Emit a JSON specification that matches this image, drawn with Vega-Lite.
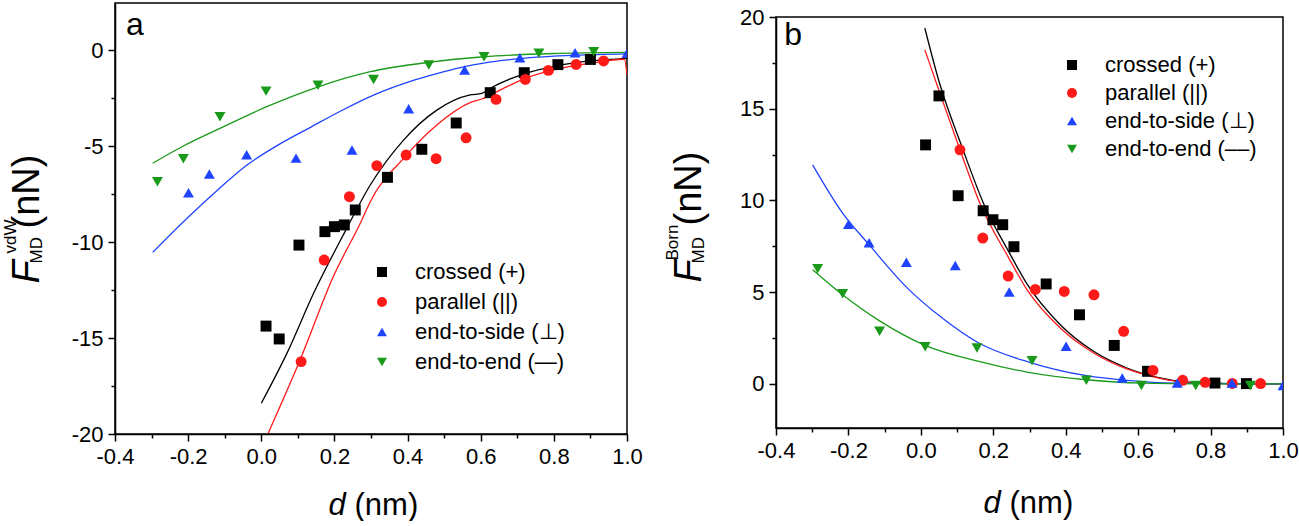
{
  "$schema": "https://vega.github.io/schema/vega-lite/v6.json",
  "padding": {"left": 0, "top": 2, "right": 0, "bottom": 0},
  "background": "white",
  "config": {
    "font": "Liberation Sans",
    "view": {"stroke": "#000", "strokeWidth": 1.5},
    "axis": {
      "grid": false, "domainColor": "#000", "domainWidth": 1.5, "tickColor": "#000", "tickWidth": 1.5,
      "labelColor": "#000", "titleColor": "#000", "labelFont": "Liberation Sans", "titleFont": "Liberation Sans",
      "labelFontSize": 22, "labelFlush": false, "labelOverlap": false, "titleFontWeight": "normal"
    },
    "legend": {"labelFont": "Liberation Sans", "labelFontSize": 22, "labelColor": "#000", "padding": 0, "symbolStrokeWidth": 0, "symbolSize": 100, "labelOffset": 22}
  },
  "resolve": {"scale": {"color": "independent", "shape": "independent"}},
  "spacing": 18,
  "datasets": {
    "a_curves": [
      {"s": "crossed (+)", "d": 0.0, "F": -18.4}, {"s": "crossed (+)", "d": 0.07, "F": -15.8}, {"s": "crossed (+)", "d": 0.143, "F": -12.67},
      {"s": "crossed (+)", "d": 0.229, "F": -9.46}, {"s": "crossed (+)", "d": 0.298, "F": -7.03}, {"s": "crossed (+)", "d": 0.389, "F": -4.69},
      {"s": "crossed (+)", "d": 0.48, "F": -3.13}, {"s": "crossed (+)", "d": 0.571, "F": -2.34}, {"s": "crossed (+)", "d": 0.603, "F": -2.26},
      {"s": "crossed (+)", "d": 0.626, "F": -1.99}, {"s": "crossed (+)", "d": 0.717, "F": -1.25}, {"s": "crossed (+)", "d": 0.808, "F": -0.83},
      {"s": "crossed (+)", "d": 0.9, "F": -0.57}, {"s": "crossed (+)", "d": 1.0, "F": -0.43},
      {"s": "parallel (||)", "d": 0.019, "F": -19.96}, {"s": "parallel (||)", "d": 0.106, "F": -16.15}, {"s": "parallel (||)", "d": 0.197, "F": -11.8},
      {"s": "parallel (||)", "d": 0.275, "F": -8.85}, {"s": "parallel (||)", "d": 0.298, "F": -7.9}, {"s": "parallel (||)", "d": 0.389, "F": -5.64},
      {"s": "parallel (||)", "d": 0.48, "F": -3.9}, {"s": "parallel (||)", "d": 0.571, "F": -2.74}, {"s": "parallel (||)", "d": 0.603, "F": -2.55},
      {"s": "parallel (||)", "d": 0.662, "F": -2.0}, {"s": "parallel (||)", "d": 0.722, "F": -1.48}, {"s": "parallel (||)", "d": 0.808, "F": -1.0},
      {"s": "parallel (||)", "d": 0.9, "F": -0.69}, {"s": "parallel (||)", "d": 0.993, "F": -0.48}, {"s": "parallel (||)", "d": 1.0, "F": -1.3},
      {"s": "end-to-side (⊥)", "d": -0.297, "F": -10.54}, {"s": "end-to-side (⊥)", "d": -0.208, "F": -8.85}, {"s": "end-to-side (⊥)", "d": -0.12, "F": -7.3},
      {"s": "end-to-side (⊥)", "d": -0.04, "F": -6.0}, {"s": "end-to-side (⊥)", "d": 0.05, "F": -4.9}, {"s": "end-to-side (⊥)", "d": 0.137, "F": -4.0},
      {"s": "end-to-side (⊥)", "d": 0.22, "F": -3.15}, {"s": "end-to-side (⊥)", "d": 0.307, "F": -2.35}, {"s": "end-to-side (⊥)", "d": 0.42, "F": -1.56},
      {"s": "end-to-side (⊥)", "d": 0.5, "F": -1.12}, {"s": "end-to-side (⊥)", "d": 0.556, "F": -0.86}, {"s": "end-to-side (⊥)", "d": 0.608, "F": -0.68},
      {"s": "end-to-side (⊥)", "d": 0.707, "F": -0.45}, {"s": "end-to-side (⊥)", "d": 0.858, "F": -0.27}, {"s": "end-to-side (⊥)", "d": 1.0, "F": -0.2},
      {"s": "end-to-end (—)", "d": -0.297, "F": -5.9}, {"s": "end-to-end (—)", "d": -0.213, "F": -5.0}, {"s": "end-to-end (—)", "d": -0.113, "F": -4.08},
      {"s": "end-to-end (—)", "d": 0.015, "F": -2.95}, {"s": "end-to-end (—)", "d": 0.152, "F": -1.94}, {"s": "end-to-end (—)", "d": 0.298, "F": -1.13},
      {"s": "end-to-end (—)", "d": 0.458, "F": -0.64}, {"s": "end-to-end (—)", "d": 0.609, "F": -0.35}, {"s": "end-to-end (—)", "d": 0.8, "F": -0.18},
      {"s": "end-to-end (—)", "d": 1.0, "F": -0.12}
    ],
    "a_points": [
      {"s": "crossed (+)", "d": 0.013, "F": -14.38}, {"s": "crossed (+)", "d": 0.049, "F": -15.05}, {"s": "crossed (+)", "d": 0.103, "F": -10.16},
      {"s": "crossed (+)", "d": 0.174, "F": -9.46}, {"s": "crossed (+)", "d": 0.2, "F": -9.2}, {"s": "crossed (+)", "d": 0.227, "F": -9.11},
      {"s": "crossed (+)", "d": 0.257, "F": -8.33}, {"s": "crossed (+)", "d": 0.345, "F": -6.63}, {"s": "crossed (+)", "d": 0.439, "F": -5.17},
      {"s": "crossed (+)", "d": 0.533, "F": -3.8}, {"s": "crossed (+)", "d": 0.626, "F": -2.22}, {"s": "crossed (+)", "d": 0.719, "F": -1.18},
      {"s": "crossed (+)", "d": 0.811, "F": -0.76}, {"s": "crossed (+)", "d": 0.9, "F": -0.49},
      {"s": "parallel (||)", "d": 0.109, "F": -16.23}, {"s": "parallel (||)", "d": 0.172, "F": -10.94}, {"s": "parallel (||)", "d": 0.241, "F": -7.64},
      {"s": "parallel (||)", "d": 0.316, "F": -6.02}, {"s": "parallel (||)", "d": 0.396, "F": -5.47}, {"s": "parallel (||)", "d": 0.478, "F": -5.66},
      {"s": "parallel (||)", "d": 0.56, "F": -4.57}, {"s": "parallel (||)", "d": 0.642, "F": -2.57}, {"s": "parallel (||)", "d": 0.722, "F": -1.53},
      {"s": "parallel (||)", "d": 0.785, "F": -1.06}, {"s": "parallel (||)", "d": 0.861, "F": -0.75}, {"s": "parallel (||)", "d": 0.936, "F": -0.57},
      {"s": "end-to-side (⊥)", "d": -0.199, "F": -7.43}, {"s": "end-to-side (⊥)", "d": -0.142, "F": -6.46}, {"s": "end-to-side (⊥)", "d": -0.04, "F": -5.45},
      {"s": "end-to-side (⊥)", "d": 0.095, "F": -5.63}, {"s": "end-to-side (⊥)", "d": 0.248, "F": -5.21}, {"s": "end-to-side (⊥)", "d": 0.403, "F": -3.06},
      {"s": "end-to-side (⊥)", "d": 0.556, "F": -1.04}, {"s": "end-to-side (⊥)", "d": 0.707, "F": -0.4}, {"s": "end-to-side (⊥)", "d": 0.858, "F": -0.14},
      {"s": "end-to-side (⊥)", "d": 1.0, "F": -0.17},
      {"s": "end-to-end (—)", "d": -0.284, "F": -6.86}, {"s": "end-to-end (—)", "d": -0.213, "F": -5.66}, {"s": "end-to-end (—)", "d": -0.113, "F": -3.47},
      {"s": "end-to-end (—)", "d": 0.013, "F": -2.14}, {"s": "end-to-end (—)", "d": 0.155, "F": -1.84}, {"s": "end-to-end (—)", "d": 0.307, "F": -1.53},
      {"s": "end-to-end (—)", "d": 0.458, "F": -0.78}, {"s": "end-to-end (—)", "d": 0.609, "F": -0.35}, {"s": "end-to-end (—)", "d": 0.759, "F": -0.17},
      {"s": "end-to-end (—)", "d": 0.909, "F": -0.09}
    ],
    "b_curves": [
      {"s": "crossed (+)", "d": 0.011, "F": 19.39}, {"s": "crossed (+)", "d": 0.05, "F": 16.5}, {"s": "crossed (+)", "d": 0.114, "F": 12.9},
      {"s": "crossed (+)", "d": 0.174, "F": 9.8}, {"s": "crossed (+)", "d": 0.243, "F": 7.2}, {"s": "crossed (+)", "d": 0.293, "F": 5.45},
      {"s": "crossed (+)", "d": 0.385, "F": 3.23}, {"s": "crossed (+)", "d": 0.477, "F": 1.78}, {"s": "crossed (+)", "d": 0.569, "F": 0.87},
      {"s": "crossed (+)", "d": 0.66, "F": 0.33}, {"s": "crossed (+)", "d": 0.725, "F": 0.12}, {"s": "crossed (+)", "d": 0.844, "F": 0.02},
      {"s": "crossed (+)", "d": 1.0, "F": 0.0},
      {"s": "parallel (||)", "d": 0.011, "F": 18.21}, {"s": "parallel (||)", "d": 0.059, "F": 15.49}, {"s": "parallel (||)", "d": 0.108, "F": 12.76},
      {"s": "parallel (||)", "d": 0.165, "F": 9.75}, {"s": "parallel (||)", "d": 0.243, "F": 6.86}, {"s": "parallel (||)", "d": 0.293, "F": 5.14},
      {"s": "parallel (||)", "d": 0.385, "F": 3.05}, {"s": "parallel (||)", "d": 0.477, "F": 1.69}, {"s": "parallel (||)", "d": 0.569, "F": 0.82},
      {"s": "parallel (||)", "d": 0.66, "F": 0.31}, {"s": "parallel (||)", "d": 0.725, "F": 0.1}, {"s": "parallel (||)", "d": 0.844, "F": 0.02},
      {"s": "parallel (||)", "d": 1.0, "F": 0.0},
      {"s": "end-to-side (⊥)", "d": -0.299, "F": 11.94}, {"s": "end-to-side (⊥)", "d": -0.216, "F": 9.31}, {"s": "end-to-side (⊥)", "d": -0.143, "F": 7.59},
      {"s": "end-to-side (⊥)", "d": -0.042, "F": 5.32}, {"s": "end-to-side (⊥)", "d": 0.059, "F": 3.59}, {"s": "end-to-side (⊥)", "d": 0.16, "F": 2.23},
      {"s": "end-to-side (⊥)", "d": 0.3, "F": 1.18}, {"s": "end-to-side (⊥)", "d": 0.458, "F": 0.45}, {"s": "end-to-side (⊥)", "d": 0.569, "F": 0.2},
      {"s": "end-to-side (⊥)", "d": 0.7, "F": 0.05}, {"s": "end-to-side (⊥)", "d": 1.0, "F": 0.0},
      {"s": "end-to-end (––)", "d": -0.299, "F": 6.23}, {"s": "end-to-end (––)", "d": -0.216, "F": 4.86}, {"s": "end-to-end (––)", "d": -0.115, "F": 3.45},
      {"s": "end-to-end (––)", "d": 0.013, "F": 2.09}, {"s": "end-to-end (––)", "d": 0.16, "F": 1.23}, {"s": "end-to-end (––)", "d": 0.293, "F": 0.65},
      {"s": "end-to-end (––)", "d": 0.458, "F": 0.23}, {"s": "end-to-end (––)", "d": 0.609, "F": 0.05}, {"s": "end-to-end (––)", "d": 0.8, "F": 0.01},
      {"s": "end-to-end (––)", "d": 1.0, "F": 0.0}
    ],
    "b_points": [
      {"s": "crossed (+)", "d": 0.013, "F": 13.03}, {"s": "crossed (+)", "d": 0.05, "F": 15.7}, {"s": "crossed (+)", "d": 0.103, "F": 10.26},
      {"s": "crossed (+)", "d": 0.172, "F": 9.44}, {"s": "crossed (+)", "d": 0.199, "F": 8.95}, {"s": "crossed (+)", "d": 0.226, "F": 8.68},
      {"s": "crossed (+)", "d": 0.257, "F": 7.48}, {"s": "crossed (+)", "d": 0.346, "F": 5.45}, {"s": "crossed (+)", "d": 0.438, "F": 3.77},
      {"s": "crossed (+)", "d": 0.534, "F": 2.1}, {"s": "crossed (+)", "d": 0.626, "F": 0.69}, {"s": "crossed (+)", "d": 0.812, "F": 0.05},
      {"s": "crossed (+)", "d": 0.899, "F": 0.02},
      {"s": "parallel (||)", "d": 0.108, "F": 12.76}, {"s": "parallel (||)", "d": 0.171, "F": 7.95}, {"s": "parallel (||)", "d": 0.241, "F": 5.88},
      {"s": "parallel (||)", "d": 0.316, "F": 5.15}, {"s": "parallel (||)", "d": 0.396, "F": 5.04}, {"s": "parallel (||)", "d": 0.478, "F": 4.86},
      {"s": "parallel (||)", "d": 0.56, "F": 2.87}, {"s": "parallel (||)", "d": 0.641, "F": 0.74}, {"s": "parallel (||)", "d": 0.723, "F": 0.2},
      {"s": "parallel (||)", "d": 0.785, "F": 0.09}, {"s": "parallel (||)", "d": 0.86, "F": 0.03}, {"s": "parallel (||)", "d": 0.938, "F": 0.02},
      {"s": "end-to-side (⊥)", "d": -0.2, "F": 8.71}, {"s": "end-to-side (⊥)", "d": -0.143, "F": 7.7}, {"s": "end-to-side (⊥)", "d": -0.04, "F": 6.64},
      {"s": "end-to-side (⊥)", "d": 0.095, "F": 6.46}, {"s": "end-to-side (⊥)", "d": 0.244, "F": 5.01}, {"s": "end-to-side (⊥)", "d": 0.401, "F": 2.05},
      {"s": "end-to-side (⊥)", "d": 0.556, "F": 0.33}, {"s": "end-to-side (⊥)", "d": 0.708, "F": 0.05}, {"s": "end-to-side (⊥)", "d": 0.859, "F": 0.05},
      {"s": "end-to-side (⊥)", "d": 1.0, "F": -0.08},
      {"s": "end-to-end (––)", "d": -0.285, "F": 6.28}, {"s": "end-to-end (––)", "d": -0.216, "F": 4.92}, {"s": "end-to-end (––)", "d": -0.114, "F": 2.87},
      {"s": "end-to-end (––)", "d": 0.012, "F": 2.03}, {"s": "end-to-end (––)", "d": 0.155, "F": 1.96}, {"s": "end-to-end (––)", "d": 0.307, "F": 1.27},
      {"s": "end-to-end (––)", "d": 0.457, "F": 0.2}, {"s": "end-to-end (––)", "d": 0.609, "F": -0.08}, {"s": "end-to-end (––)", "d": 0.759, "F": -0.08},
      {"s": "end-to-end (––)", "d": 0.91, "F": -0.08}
    ],
    "a_label": [{"label": "a", "d": -0.37, "F": 0.78}],
    "b_label": [{"label": "b", "d": -0.377, "F": 18.48}],
    "empty": []
  },
  "hconcat": [
    {
      "width": 512,
      "height": 431,
      "resolve": {"axis": {"x": "independent", "y": "independent"}},
      "layer": [
        {
          "data": {"name": "a_curves"},
          "transform": [{"filter": "datum.s == 'crossed (+)'"}],
          "mark": {"type": "line", "strokeWidth": 1.3, "interpolate": "monotone", "clip": true, "color": "#000000"},
          "encoding": {
            "x": {"field": "d", "type": "quantitative", "scale": {"domain": [-0.4, 1.0], "nice": false, "zero": false},
              "axis": {"orient": "bottom", "values": [-0.4, -0.2, 0, 0.2, 0.4, 0.6, 0.8, 1], "labelExpr": "(datum.value < 0 ? '-' : '') + format(abs(datum.value), '.1f')", "tickSize": 7, "labelPadding": 5,
                "title": "d", "titleFontStyle": "italic", "titleFontSize": 31, "titleAngle": 0, "titleAlign": "left", "titleBaseline": "alphabetic", "titleX": 213, "titleY": 80}},
            "y": {"field": "F", "type": "quantitative", "scale": {"domain": [-20, 2.45], "nice": false, "zero": false},
              "axis": {"orient": "left", "values": [-20, -15, -10, -5, 0], "labelExpr": "(datum.value < 0 ? '-' : '') + format(abs(datum.value), 'd')", "tickSize": 7, "labelPadding": 5,
                "title": "F", "titleFontStyle": "italic", "titleFontSize": 38, "titleAngle": -90, "titleAlign": "left", "titleBaseline": "alphabetic", "titleX": -77, "titleY": 280}}
          }
        },
        {
          "data": {"name": "a_curves"},
          "transform": [{"filter": "datum.s == 'parallel (||)'"}],
          "mark": {"type": "line", "strokeWidth": 1.3, "interpolate": "monotone", "clip": true, "color": "#ff1a1a"},
          "encoding": {
            "x": {"field": "d", "type": "quantitative",
              "axis": {"orient": "bottom", "values": [-0.3, -0.1, 0.1, 0.3, 0.5, 0.7, 0.9], "tickSize": 4, "labels": false, "domain": false,
                "title": "(nm)", "titleFontSize": 31, "titleAngle": 0, "titleAlign": "left", "titleBaseline": "alphabetic", "titleX": 239, "titleY": 80}},
            "y": {"field": "F", "type": "quantitative",
              "axis": {"orient": "left", "values": [-17.5, -12.5, -7.5, -2.5], "tickSize": 4, "labels": false, "domain": false,
                "title": "(nN)", "titleFontSize": 38, "titleAngle": -90, "titleAlign": "left", "titleBaseline": "alphabetic", "titleX": -77, "titleY": 225}}
          }
        },
        {
          "data": {"name": "a_curves"},
          "transform": [{"filter": "datum.s == 'end-to-side (⊥)'"}],
          "mark": {"type": "line", "strokeWidth": 1.3, "interpolate": "monotone", "clip": true, "color": "#1f44ff"},
          "encoding": {
            "x": {"field": "d", "type": "quantitative", "axis": null},
            "y": {"field": "F", "type": "quantitative",
              "axis": {"orient": "left", "labels": false, "ticks": false, "domain": false,
                "title": "vdW", "titleFontSize": 17, "titleAngle": -90, "titleAlign": "left", "titleBaseline": "alphabetic", "titleX": -100, "titleY": 250}}
          }
        },
        {
          "data": {"name": "a_curves"},
          "transform": [{"filter": "datum.s == 'end-to-end (—)'"}],
          "mark": {"type": "line", "strokeWidth": 1.3, "interpolate": "monotone", "clip": true, "color": "#1a9a1a"},
          "encoding": {
            "x": {"field": "d", "type": "quantitative", "axis": null},
            "y": {"field": "F", "type": "quantitative",
              "axis": {"orient": "left", "labels": false, "ticks": false, "domain": false,
                "title": "MD", "titleFontSize": 17, "titleAngle": -90, "titleAlign": "left", "titleBaseline": "alphabetic", "titleX": -74, "titleY": 260}}
          }
        },
        {
          "data": {"name": "a_points"},
          "mark": {"type": "point", "filled": true, "opacity": 1, "size": 120, "strokeWidth": 0, "clip": true},
          "encoding": {
            "x": {"field": "d", "type": "quantitative", "axis": null},
            "y": {"field": "F", "type": "quantitative", "axis": null},
            "color": {"field": "s", "type": "nominal",
              "scale": {"domain": ["crossed (+)", "parallel (||)", "end-to-side (⊥)", "end-to-end (—)"], "range": ["#000000", "#ff1a1a", "#1f44ff", "#1a9a1a"]},
              "legend": {"orient": "none", "legendX": 256, "legendY": 258, "title": null, "rowPadding": 8}},
            "shape": {"field": "s", "type": "nominal",
              "scale": {"domain": ["crossed (+)", "parallel (||)", "end-to-side (⊥)", "end-to-end (—)"], "range": ["square", "circle", "triangle-up", "triangle-down"]},
              "legend": {"orient": "none", "legendX": 256, "legendY": 258, "title": null, "rowPadding": 8}}
          }
        },
        {
          "data": {"name": "a_label"},
          "mark": {"type": "text", "fontSize": 32, "align": "left", "baseline": "alphabetic", "color": "#000"},
          "encoding": {
            "x": {"field": "d", "type": "quantitative", "axis": null},
            "y": {"field": "F", "type": "quantitative", "axis": null},
            "text": {"field": "label"}
          }
        }
      ]
    },
    {
      "spacing": 0,
      "vconcat": [
        {
          "width": 507,
          "height": 2,
          "view": {"stroke": null},
          "data": {"name": "empty"},
          "mark": "text"
        },
        {
          "width": 507,
          "height": 411,
          "resolve": {"axis": {"x": "independent", "y": "independent"}},
          "layer": [
            {
              "data": {"name": "b_curves"},
              "transform": [{"filter": "datum.s == 'crossed (+)'"}],
              "mark": {"type": "line", "strokeWidth": 1.3, "interpolate": "monotone", "clip": true, "color": "#000000"},
              "encoding": {
                "x": {"field": "d", "type": "quantitative", "scale": {"domain": [-0.4, 1.0], "nice": false, "zero": false},
                  "axis": {"orient": "bottom", "values": [-0.4, -0.2, 0, 0.2, 0.4, 0.6, 0.8, 1], "labelExpr": "(datum.value < 0 ? '-' : '') + format(abs(datum.value), '.1f')", "tickSize": 7, "labelPadding": 5,
                    "title": "d", "titleFontStyle": "italic", "titleFontSize": 31, "titleAngle": 0, "titleAlign": "left", "titleBaseline": "alphabetic", "titleX": 207, "titleY": 84}},
                "y": {"field": "F", "type": "quantitative", "scale": {"domain": [-2.4, 20], "nice": false, "zero": false},
                  "axis": {"orient": "left", "values": [0, 5, 10, 15, 20], "tickSize": 7, "labelPadding": 5,
                    "title": "F", "titleFontStyle": "italic", "titleFontSize": 38, "titleAngle": -90, "titleAlign": "left", "titleBaseline": "alphabetic", "titleX": -76, "titleY": 265}}
              }
            },
            {
              "data": {"name": "b_curves"},
              "transform": [{"filter": "datum.s == 'parallel (||)'"}],
              "mark": {"type": "line", "strokeWidth": 1.3, "interpolate": "monotone", "clip": true, "color": "#ff1a1a"},
              "encoding": {
                "x": {"field": "d", "type": "quantitative",
                  "axis": {"orient": "bottom", "values": [-0.3, -0.1, 0.1, 0.3, 0.5, 0.7, 0.9], "tickSize": 4, "labels": false, "domain": false,
                    "title": "(nm)", "titleFontSize": 31, "titleAngle": 0, "titleAlign": "left", "titleBaseline": "alphabetic", "titleX": 233, "titleY": 84}},
                "y": {"field": "F", "type": "quantitative",
                  "axis": {"orient": "left", "values": [2.5, 7.5, 12.5, 17.5], "tickSize": 4, "labels": false, "domain": false,
                    "title": "(nN)", "titleFontSize": 38, "titleAngle": -90, "titleAlign": "left", "titleBaseline": "alphabetic", "titleX": -76, "titleY": 208}}
              }
            },
            {
              "data": {"name": "b_curves"},
              "transform": [{"filter": "datum.s == 'end-to-side (⊥)'"}],
              "mark": {"type": "line", "strokeWidth": 1.3, "interpolate": "monotone", "clip": true, "color": "#1f44ff"},
              "encoding": {
                "x": {"field": "d", "type": "quantitative", "axis": null},
                "y": {"field": "F", "type": "quantitative",
                  "axis": {"orient": "left", "labels": false, "ticks": false, "domain": false,
                    "title": "Born", "titleFontSize": 17, "titleAngle": -90, "titleAlign": "left", "titleBaseline": "alphabetic", "titleX": -99, "titleY": 243}}
              }
            },
            {
              "data": {"name": "b_curves"},
              "transform": [{"filter": "datum.s == 'end-to-end (––)'"}],
              "mark": {"type": "line", "strokeWidth": 1.3, "interpolate": "monotone", "clip": true, "color": "#1a9a1a"},
              "encoding": {
                "x": {"field": "d", "type": "quantitative", "axis": null},
                "y": {"field": "F", "type": "quantitative",
                  "axis": {"orient": "left", "labels": false, "ticks": false, "domain": false,
                    "title": "MD", "titleFontSize": 17, "titleAngle": -90, "titleAlign": "left", "titleBaseline": "alphabetic", "titleX": -73, "titleY": 246}}
              }
            },
            {
              "data": {"name": "b_points"},
              "mark": {"type": "point", "filled": true, "opacity": 1, "size": 120, "strokeWidth": 0, "clip": true},
              "encoding": {
                "x": {"field": "d", "type": "quantitative", "axis": null},
                "y": {"field": "F", "type": "quantitative", "axis": null},
                "color": {"field": "s", "type": "nominal",
                  "scale": {"domain": ["crossed (+)", "parallel (||)", "end-to-side (⊥)", "end-to-end (––)"], "range": ["#000000", "#ff1a1a", "#1f44ff", "#1a9a1a"]},
                  "legend": {"orient": "none", "legendX": 285, "legendY": 51, "title": null, "rowPadding": 6}},
                "shape": {"field": "s", "type": "nominal",
                  "scale": {"domain": ["crossed (+)", "parallel (||)", "end-to-side (⊥)", "end-to-end (––)"], "range": ["square", "circle", "triangle-up", "triangle-down"]},
                  "legend": {"orient": "none", "legendX": 285, "legendY": 51, "title": null, "rowPadding": 6}}
              }
            },
            {
              "data": {"name": "b_label"},
              "mark": {"type": "text", "fontSize": 32, "align": "left", "baseline": "alphabetic", "color": "#000"},
              "encoding": {
                "x": {"field": "d", "type": "quantitative", "axis": null},
                "y": {"field": "F", "type": "quantitative", "axis": null},
                "text": {"field": "label"}
              }
            }
          ]
        }
      ]
    }
  ]
}
